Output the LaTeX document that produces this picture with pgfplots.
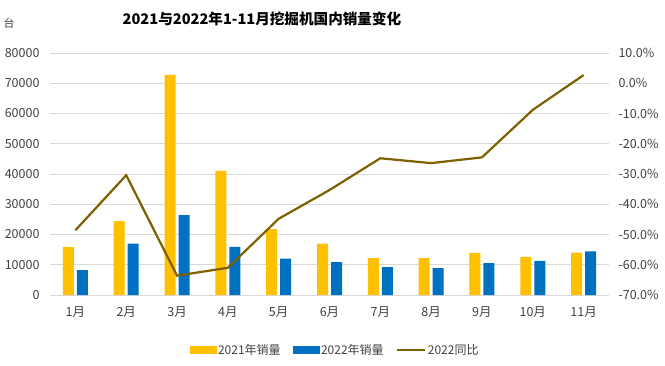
\documentclass[border=0pt]{standalone}
\usepackage{pgfplots}
\pgfplotsset{compat=1.18}
\usepackage{fontspec}
\setmainfont{Noto Sans CJK SC}
\definecolor{cY}{HTML}{FFC000}
\definecolor{cB}{HTML}{0070C0}
\definecolor{cL}{HTML}{7F6000}
\definecolor{cG}{HTML}{D9D9D9}
\definecolor{cT}{HTML}{404040}
\begin{document}
\begin{tikzpicture}[x=1pt,y=1pt]
\path[use as bounding box] (0,0) rectangle (665,365);
\node[font=\fontsize{14.6}{16}\selectfont\bfseries, text=black] at (262,346) {2021与2022年1-11月挖掘机国内销量变化};
\node[font=\fontsize{11}{13}\selectfont, text=cT] at (9,342) {台};
\begin{axis}[at={(50pt,70pt)}, anchor=south west, scale only axis,
  width=559pt, height=242pt,
  xmin=-0.5, xmax=10.5, ymin=0, ymax=80000,
  ytick={0,10000,...,80000},
  xtick={0,...,10},
  xticklabels={1月,2月,3月,4月,5月,6月,7月,8月,9月,10月,11月},
  axis line style={draw=none}, major tick length=0pt,
  ymajorgrids, grid style={cG, line width=0.8pt},
  scaled y ticks=false,
  /pgf/number format/assume math mode=true,
  yticklabel style={/pgf/number format/fixed, /pgf/number format/1000 sep={}},
  tick label style={font=\fontsize{12.5}{14}\selectfont, text=cT},
  yticklabel style={xshift=-7pt},
  xticklabel style={yshift=-8pt},
  ybar=3pt, bar width=11pt,
]
\addplot[fill=cY, draw=none] coordinates {(0,15800) (1,24400) (2,72800) (3,41000) (4,21800) (5,17000) (6,12200) (7,12200) (8,13900) (9,12600) (10,14000)};
\addplot[fill=cB, draw=none] coordinates {(0,8200) (1,17000) (2,26400) (3,15900) (4,12000) (5,10900) (6,9200) (7,8900) (8,10500) (9,11300) (10,14400)};
\end{axis}
\begin{axis}[at={(50pt,70pt)}, anchor=south west, scale only axis,
  width=559pt, height=242pt,
  xmin=-0.5, xmax=10.5, ymin=-70, ymax=10,
  ytick={-70,-60,...,10},
  axis y line*=right, hide x axis,
  axis line style={draw=none}, major tick length=0pt,
  /pgf/number format/assume math mode=true,
  yticklabel={\pgfmathprintnumber[fixed,fixed zerofill,precision=1]{\tick}\%},
  tick label style={font=\fontsize{12.5}{14}\selectfont, text=cT},
  yticklabel style={xshift=6pt},
  legend style={at={(0.51,-0.227)}, anchor=center, draw=none, fill=none,
    font=\fontsize{12}{14}\selectfont, text=cT, legend columns=3,
    /tikz/every even column/.append style={column sep=10pt}},
  legend cell align=left,
]
\addlegendimage{legend image code/.code={\fill[cY] (0pt,-3.5pt) rectangle (26pt,3.5pt);}}
\addlegendentry{2021年销量}
\addlegendimage{legend image code/.code={\fill[cB] (0pt,-3.5pt) rectangle (26pt,3.5pt);}}
\addlegendentry{2022年销量}
\addplot[cL, line width=2.2pt, mark=none, legend image code/.code={\draw[cL, line width=2.2pt] (0pt,0pt) -- (28pt,0pt);}] coordinates {(0,-48.6) (1,-30.4) (2,-63.6) (3,-61.0) (4,-44.8) (5,-35.3) (6,-24.8) (7,-26.4) (8,-24.5) (9,-8.8) (10,2.7)};
\addlegendentry{2022同比}
\end{axis}
\end{tikzpicture}
\end{document}
